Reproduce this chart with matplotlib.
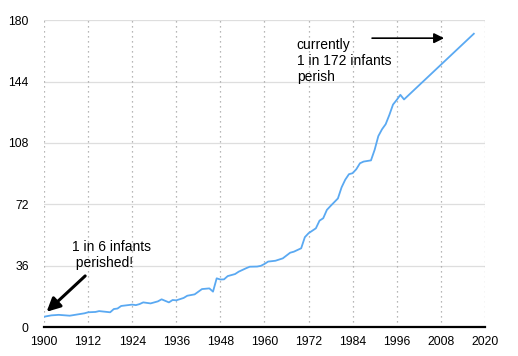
import matplotlib
matplotlib.use("Agg")
import matplotlib.pyplot as plt

plt.rcParams['font.family'] = ['Liberation Sans', 'DejaVu Sans']

years = [1900, 1902, 1904, 1907, 1909, 1911, 1912, 1914, 1915, 1918, 1919, 1920,
         1921, 1924, 1925, 1926, 1927, 1929, 1931, 1932, 1934, 1935, 1936, 1938,
         1939, 1941, 1943, 1945, 1946, 1947, 1948, 1949, 1950, 1952, 1953, 1955,
         1956, 1958, 1959, 1960, 1961, 1963, 1965, 1967, 1968, 1970, 1971, 1972,
         1974, 1975, 1976, 1977, 1978, 1980, 1981, 1982, 1983, 1984, 1985, 1986,
         1987, 1989, 1990, 1991, 1992, 1993, 1994, 1995, 1996, 1997, 1998, 2017]
values = [6.2, 7.0, 7.3, 6.8, 7.5, 8.2, 8.8, 9.0, 9.5, 8.8, 10.7, 11.0,
          12.5, 13.3, 13.0, 13.6, 14.6, 14.0, 15.2, 16.4, 14.6, 16.0, 15.8, 17.2,
          18.5, 19.3, 22.4, 22.8, 20.9, 28.7, 28.0, 28.1, 30.0, 31.2, 32.6, 34.6,
          35.5, 35.6, 36.0, 37.1, 38.5, 39.0, 40.4, 43.7, 44.3, 46.3, 52.8, 55.1,
          58.0, 62.5, 63.9, 68.8, 71.1, 75.5, 82.0, 86.5, 89.7, 90.3, 92.6, 96.1,
          97.1, 97.8, 104.0, 112.0, 116.0, 119.0, 124.4, 130.5, 133.2, 136.2, 133.5, 172.0]

xticks = [1900, 1912, 1924, 1936, 1948, 1960, 1972, 1984, 1996, 2008, 2020]
yticks = [0, 36, 72, 108, 144, 180]

fig = plt.figure(figsize=(5.18, 3.56), dpi=100)
ax = fig.add_axes([0.085, 0.0806, 0.851, 0.863])

ax.plot(years, values, color='#5aa9f2', lw=1.3, zorder=3)

ax.set_xlim(1900, 2020)
ax.set_ylim(0, 180)
ax.set_xticks(xticks)
ax.set_yticks(yticks)
ax.tick_params(axis='both', length=0, labelsize=8.8)
ax.tick_params(axis='x', pad=6)
ax.tick_params(axis='y', pad=11)

for s in ['left', 'right', 'top']:
    ax.spines[s].set_visible(False)
ax.spines['bottom'].set_color('black')
ax.spines['bottom'].set_linewidth(1.6)
ax.spines['bottom'].set_zorder(4)

for yv in yticks[1:]:
    ax.axhline(yv, color='#dedede', lw=0.9, zorder=1)
for xv in xticks:
    ax.axvline(xv, color='#a0a0a0', lw=0.9, linestyle=(0, (1, 3)), zorder=1)

ax.annotate('', xy=(1900.7, 9.1), xytext=(1911.2, 30.1),
            arrowprops=dict(arrowstyle='-|>', color='black', lw=2.2,
                            mutation_scale=20, shrinkA=0, shrinkB=0), zorder=5)
ax.annotate('', xy=(2008.9, 169.4), xytext=(1989.3, 169.4),
            arrowprops=dict(arrowstyle='-|>', color='black', lw=1.2,
                            mutation_scale=15, shrinkA=0, shrinkB=0), zorder=5)

ax.text(1907.6, 42.2, '1 in 6 infants\n perished!', fontsize=10, ha='left',
        va='center', linespacing=1.15)
ax.text(1968.8, 156.0, 'currently\n1 in 172 infants\nperish', fontsize=10,
        ha='left', va='center', linespacing=1.15)

fig.savefig('out.png', dpi=100)
